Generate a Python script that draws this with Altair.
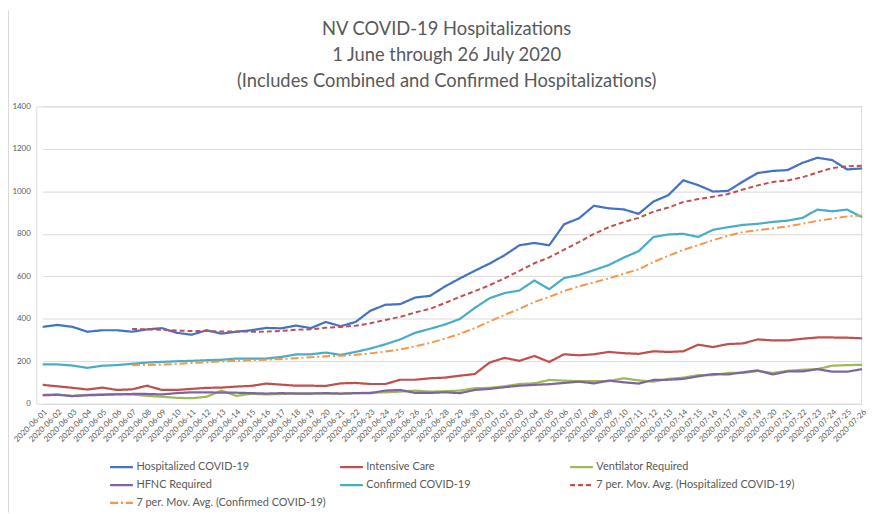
import altair as alt
import pandas as pd

dates = [f"2020-06-{d:02d}" for d in range(1, 31)] + [f"2020-07-{d:02d}" for d in range(1, 27)]

hospitalized = [362, 371, 362, 339, 346, 346, 339, 350, 356, 334,
                325, 346, 330, 339, 346, 357, 355, 368, 356, 385,
                365, 385, 438, 466, 469, 500, 508, 552, 590, 626,
                660, 699, 746, 757, 746, 845, 873, 932, 920, 915,
                894, 952, 982, 1052, 1029, 999, 1002, 1046, 1086, 1096,
                1100, 1134, 1158, 1147, 1103, 1108]
intensive_care = [89, 82, 75, 67, 76, 65, 68, 85, 65, 65,
                  70, 75, 76, 81, 84, 95, 90, 85, 85, 84,
                  96, 98, 93, 93, 113, 113, 120, 123, 132, 140,
                  194, 216, 202, 225, 197, 233, 228, 233, 244, 238,
                  235, 247, 244, 247, 278, 267, 281, 284, 303, 298,
                  298, 306, 312, 312, 311, 308]
ventilator = [42, 44, 37, 42, 44, 46, 44, 37, 33, 28,
              26, 33, 62, 37, 47, 44, 46, 49, 49, 48,
              47, 50, 52, 54, 57, 62, 57, 59, 62, 73,
              75, 82, 93, 96, 112, 109, 106, 107, 107, 120,
              110, 104, 117, 123, 135, 135, 145, 145, 154, 145,
              155, 160, 163, 179, 182, 183]
hfnc = [40, 42, 36, 40, 42, 44, 46, 46, 44, 50,
        54, 54, 52, 52, 50, 48, 50, 48, 48, 50,
        48, 50, 50, 62, 65, 51, 51, 54, 50, 65,
        70, 78, 85, 89, 92, 98, 104, 96, 109, 101,
        95, 112, 113, 117, 129, 140, 138, 148, 157, 138,
        152, 152, 163, 151, 151, 163]
confirmed = [185, 185, 180, 169, 179, 182, 188, 194, 197, 200,
             202, 205, 207, 213, 213, 213, 220, 232, 233, 241,
             230, 244, 260, 280, 303, 334, 353, 373, 399, 451,
             497, 521, 533, 580, 539, 592, 606, 629, 653, 688,
             718, 785, 797, 800, 785, 819, 831, 842, 847, 856,
             862, 875, 914, 906, 914, 878]

series_names = ["Hospitalized COVID-19", "Intensive Care", "Ventilator Required",
                "HFNC Required", "Confirmed COVID-19"]
series_values = [hospitalized, intensive_care, ventilator, hfnc, confirmed]
ma_sources = ["Hospitalized COVID-19", "Confirmed COVID-19"]
legend_order = series_names + ["7 per. Mov. Avg. (Hospitalized COVID-19)",
                               "7 per. Mov. Avg. (Confirmed COVID-19)"]
colors = ["#4472C4", "#C0504D", "#9BBB59", "#8064A2", "#4BACC6", "#C0504D", "#F79646"]
dashes = [[1, 0], [1, 0], [1, 0], [1, 0], [1, 0], [5, 3], [8, 3, 2, 3]]
y_ticks = [0, 200, 400, 600, 800, 1000, 1200, 1400]
title_lines = ["NV COVID-19 Hospitalizations", "1 June through 26 July 2020",
               "(Includes Combined and Confirmed Hospitalizations)"]

rows = []
for name, vals in zip(series_names, series_values):
    for i, (d, v) in enumerate(zip(dates, vals)):
        rows.append({"date": d, "idx": i, "series": name, "value": v})
df = pd.DataFrame(rows)

FONT = "Lato"
TXT = "#595959"

legend = alt.Legend(title=None, orient="none", legendX=73, legendY=351, columns=3,
                    direction="horizontal",
                    symbolType="stroke", symbolSize=529, symbolStrokeWidth=2.25,
                    labelFontSize=11, labelFont=FONT, labelColor=TXT, labelLimit=400,
                    gridAlign="all", columnPadding=0, rowPadding=-4, labelOffset=2)

color = alt.Color("series:N", scale=alt.Scale(domain=legend_order, range=colors), legend=legend)
dash = alt.StrokeDash("series:N", scale=alt.Scale(domain=legend_order, range=dashes), legend=legend)

x = alt.X("date:O", sort=dates,
          scale=alt.Scale(type="point", range=[6.5, 833], padding=0),
          axis=alt.Axis(title=None, labelAngle=-45, labelFontSize=8, labelFont=FONT,
                        labelColor=TXT, ticks=False, domain=False, grid=False, labelPadding=4))
y_axis = alt.Axis(title=None, values=y_ticks, format="d", labelFontSize=8, labelFont=FONT,
                  labelColor=TXT, ticks=False, domain=False, gridColor="#d9d9d9",
                  gridWidth=1, labelPadding=6)

base = alt.Chart(df)

lines = base.mark_line(strokeWidth=2.25).encode(
    x=x,
    y=alt.Y("value:Q", scale=alt.Scale(domain=[0, 1400]), axis=y_axis),
    color=color,
    strokeDash=dash,
)

ma = base.transform_filter(
    alt.FieldOneOfPredicate(field="series", oneOf=ma_sources)
).transform_window(
    ma="mean(value)", frame=[-6, 0], groupby=["series"], sort=[alt.SortField("idx")]
).transform_filter("datum.idx >= 6").transform_calculate(
    series="'7 per. Mov. Avg. (' + datum.series + ')'"
).mark_line(strokeWidth=2).encode(
    x=x,
    y=alt.Y("ma:Q", scale=alt.Scale(domain=[0, 1400]), axis=y_axis),
    color=color,
    strokeDash=dash,
)

one = alt.Chart(pd.DataFrame({"k": [0]}))
border = one.mark_rule(color="#d9d9d9", strokeWidth=1).encode(
    x=alt.value(-28), y=alt.value(-97), y2=alt.value(410)
)
title_layers = [
    one.mark_text(font=FONT, fontSize=18.5, color=TXT, align="center", baseline="middle").encode(
        text=alt.value(t), x=alt.value(414), y=alt.value(-78 + 26 * k)
    )
    for k, t in enumerate(title_lines)
]

chart = alt.layer(lines, ma, border, *title_layers).properties(
    width=832, height=300,
    autosize=alt.AutoSizeParams(type="none"),
    padding={"left": 28.5, "top": 97, "right": 7, "bottom": 110},
).configure_view(stroke=None).configure(background="white")

chart.save("out.html", embed_options={"renderer": "svg", "actions": False})
